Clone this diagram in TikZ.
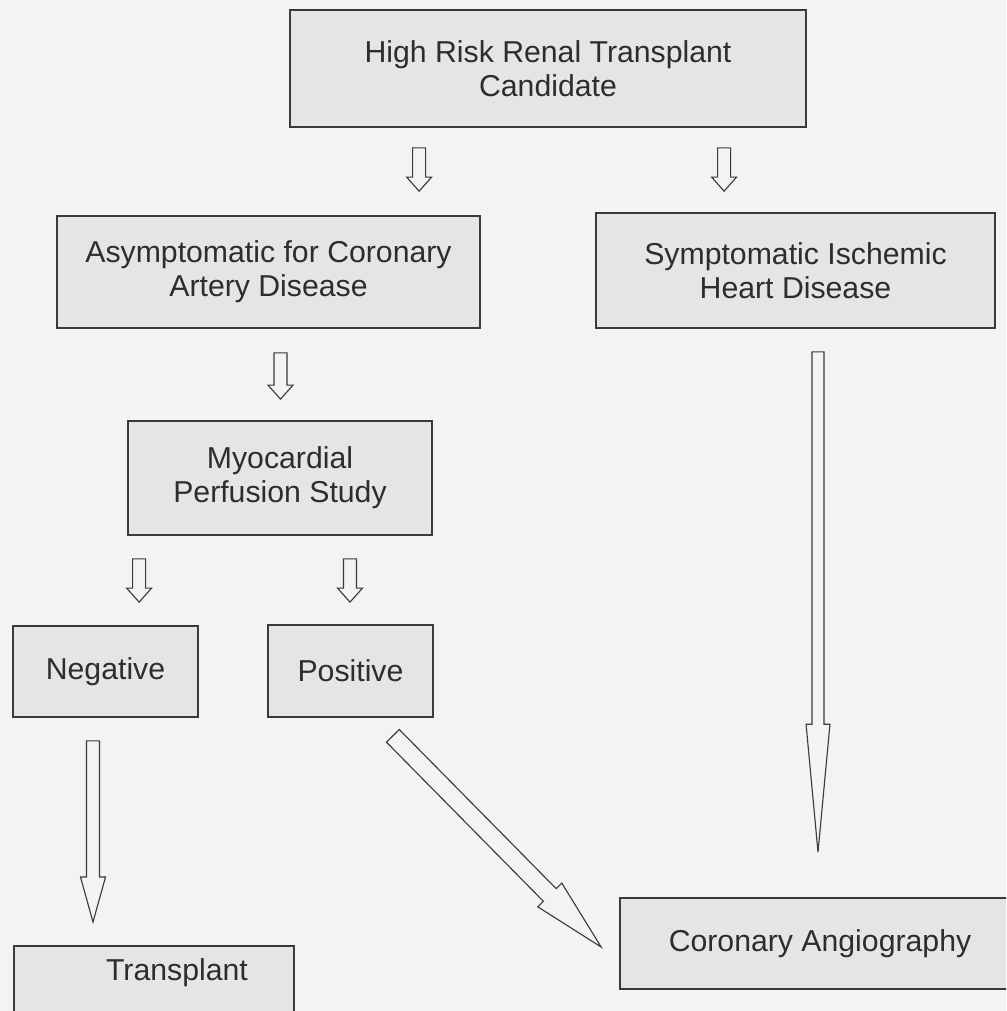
\documentclass[tikz,border=0pt]{standalone}
\usepackage{fontspec}
\setmainfont{Liberation Sans}
\usetikzlibrary{calc}
\definecolor{paper}{RGB}{243,243,243}
\definecolor{boxfill}{RGB}{229,229,229}
\definecolor{ink}{RGB}{45,45,45}
\definecolor{rule}{RGB}{58,58,58}

% hollow block arrow: from, to, half shaft, half head, head length
\newcommand\hollowarrow[5]{%
  \path ($(#2)!#5!(#1)$) coordinate (hb);
  \draw[arrowline] ($(#1)!#3!-90:(#2)$) -- ($(hb)!#3!90:(#1)$) -- ($(hb)!#4!90:(#1)$)
    -- (#2) -- ($(hb)!#4!-90:(#1)$) -- ($(hb)!#3!-90:(#1)$) -- ($(#1)!#3!90:(#2)$) -- cycle;
}

\begin{document}
\begin{tikzpicture}[x=0.025cm, y=-0.025cm, font=\fontsize{21.5}{24}\selectfont,
  box/.style={draw=rule, line width=1.2pt, fill=boxfill, text=ink, align=center, inner sep=0pt},
  txt/.style={text=ink, inner sep=0pt},
  arrowline/.style={draw=rule, line width=0.8pt, fill=paper, line join=miter}]
  \fill[paper] (0,0) rectangle (1006,1011);
  \clip (0,0) rectangle (1006,1011);
  % boxes
  \node[box, minimum width=12.9cm, minimum height=2.925cm] (top) at (548,68.5)
    {High Risk Renal Transplant\\Candidate};
  \node[box, minimum width=10.575cm, minimum height=2.8cm] (asym) at (268.5,272)
    {Asymptomatic for Coronary\\Artery Disease};
  \node[box, minimum width=9.975cm, minimum height=2.875cm] (sympt) at (795.5,270.5)
    {Symptomatic Ischemic\\Heart Disease};
  \node[box, minimum width=7.6cm, minimum height=2.85cm] (myo) at (280,478)
    {Myocardial\\Perfusion Study};
  \node[box, minimum width=4.625cm, minimum height=2.275cm] (neg) at (105.5,671.5) {Negative};
  \node[box, minimum width=4.125cm, minimum height=2.3cm] (pos) at (350.5,671) {Positive};
  \node[box, minimum width=7cm, minimum height=2.5cm, anchor=north west] (transplant) at (13,945) {};
  \node[txt] (transplant-label) at ($(transplant.north west)+(164,28)$) {Transplant};
  \node[box, minimum width=10cm, minimum height=2.275cm] (coronary) at (820,943.5)
    {Coronary Angiography};
  % arrow ends
  \coordinate (t1s) at ($(top.south west)+(130,20)$);
  \coordinate (t1e) at ($(t1s |- asym.north)+(0,-24)$);
  \coordinate (t2s) at ($(top.south west)+(435,20)$);
  \coordinate (t2e) at ($(t2s |- sympt.north)+(0,-21)$);
  \coordinate (a1s) at ($(asym.south)+(12,24)$);
  \coordinate (a1e) at ($(a1s |- myo.north)+(0,-21)$);
  \coordinate (m1s) at ($(myo.south west)+(12,23)$);
  \coordinate (m1e) at ($(m1s |- neg.north)+(0,-23)$);
  \coordinate (m2s) at ($(myo.south)+(70,23)$);
  \coordinate (m2e) at ($(m2s |- pos.north)+(0,-22)$);
  \coordinate (n1s) at ($(neg.south)+(-12.5,23)$);
  \coordinate (n1e) at ($(n1s |- transplant.north)+(0,-23)$);
  \coordinate (s1s) at ($(sympt.south)+(22.5,23)$);
  \coordinate (s1e) at ($(s1s |- coronary.north)+(0,-45)$);
  \coordinate (p1s) at ($(pos.south east)+(-41,18)$);
  \coordinate (p1e) at ($(coronary.west)+(-18,3.5)$);
  % arrows
  \hollowarrow{t1s}{t1e}{4.6pt}{8.9pt}{10pt}
  \hollowarrow{t2s}{t2e}{4.6pt}{8.9pt}{10pt}
  \hollowarrow{a1s}{a1e}{4.6pt}{8.9pt}{10pt}
  \hollowarrow{m1s}{m1e}{4.6pt}{8.9pt}{10pt}
  \hollowarrow{m2s}{m2e}{4.6pt}{8.9pt}{10pt}
  \hollowarrow{n1s}{n1e}{4.6pt}{8.9pt}{32pt}
  \hollowarrow{s1s}{s1e}{4.3pt}{8.5pt}{91pt}
  \hollowarrow{p1s}{p1e}{6.4pt}{12pt}{52pt}
\end{tikzpicture}
\end{document}
